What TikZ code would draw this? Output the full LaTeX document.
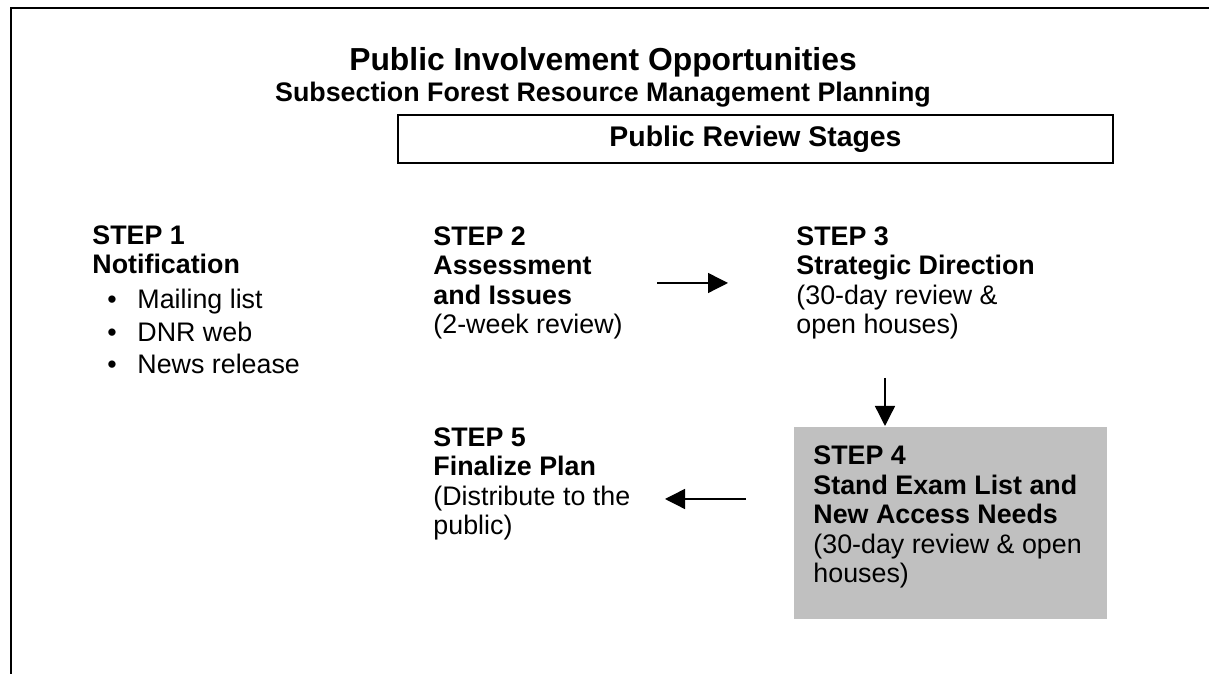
\documentclass[tikz,border=0pt]{standalone}
\usepackage{fontspec}
\setmainfont{Liberation Sans}
\usetikzlibrary{arrows.meta}
\definecolor{boxgrey}{HTML}{C0C0C0}
\tikzstyle{edgeline}=[line width=0.9pt]
\tikzstyle{hdr}=[inner sep=0pt, anchor=base, font=\bfseries\fontsize{14}{16}\selectfont]
\tikzstyle{subhdr}=[inner sep=0pt, anchor=base, font=\bfseries\fontsize{11.8}{14}\selectfont]
\tikzstyle{band}=[draw, line width=0.8pt, inner sep=0pt, minimum width=314.6pt, minimum height=21.1pt, font=\bfseries\fontsize{12.5}{14}\selectfont]
\tikzstyle{stage}=[inner sep=0pt, anchor=base west, align=left, font=\fontsize{11.8}{13}\selectfont]
\tikzstyle{shade}=[fill=boxgrey, inner sep=0pt, anchor=north west, minimum width=137.3pt, minimum height=84.5pt]
\tikzstyle{flow}=[-{Triangle[length=8.8pt, width=8.8pt]}, line width=0.6pt]
\newcommand{\bitem}[1]{\hspace*{6.6pt}\makebox[13.2pt][l]{\textbullet}#1}
\begin{document}
\begin{tikzpicture}[x=0.44pt, y=-0.44pt]
	\useasboundingbox (0,0) rectangle (1209,674);
	%The outer frame
	\draw[edgeline] (1209,8) -- (11,8) -- (11,674);

	%The headings
	\node[hdr] (title) at (603,71) {Public Involvement Opportunities};
	\node[subhdr] (subtitle) at (603,102) {Subsection Forest Resource Management Planning};
	\node[band] (stages) at (755.5,139) {Public Review Stages};

	%The shaded box behind step 4
	\node[shade] (box4) at (794,427) {};

	%The steps (placed by the baseline of their last line)
	\node[stage] (s1) at (92,374) {\textbf{STEP 1}\\\textbf{Notification}\\[2pt]\bitem{Mailing list}\\[1.5pt]\bitem{DNR web}\\[1.5pt]\bitem{News release}};
	\node[stage] (s2) at (433,334) {\textbf{STEP 2}\\\textbf{Assessment}\\\textbf{and Issues}\\(2-week review)};
	\node[stage] (s3) at (796,334) {\textbf{STEP 3}\\\textbf{Strategic Direction}\\(30-day review \&\\open houses)};
	\node[stage] (s4) at (813,583) {\textbf{STEP 4}\\\textbf{Stand Exam List and}\\\textbf{New Access Needs}\\(30-day review \& open\\houses)};
	\node[stage] (s5) at (433,535) {\textbf{STEP 5}\\\textbf{Finalize Plan}\\(Distribute to the\\public)};

	%The arrows between the steps
	\coordinate (a1) at (657,283);
	\coordinate (b1) at (728,283);
	\coordinate (a2) at (885,378);
	\coordinate (b2) at (885,426);
	\coordinate (a3) at (746,499);
	\coordinate (b3) at (665,499);
	\draw[flow] (a1) -- (b1);
	\draw[flow] (a2) -- (b2);
	\draw[flow] (a3) -- (b3);
\end{tikzpicture}
\end{document}
